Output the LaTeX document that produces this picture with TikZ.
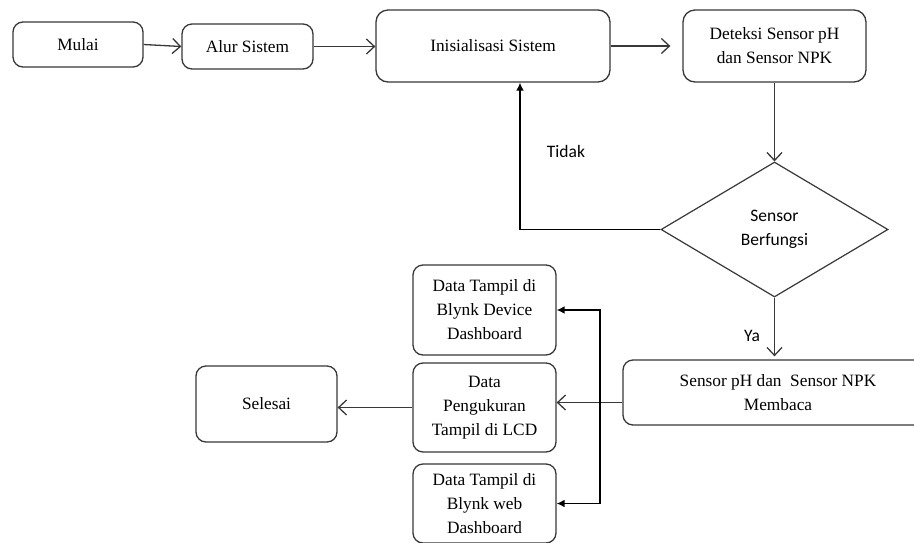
\documentclass[tikz,border=0pt]{standalone}
\usepackage{fontspec}
\setmainfont{Liberation Serif}
\newfontfamily\labelfont{Carlito}
\usetikzlibrary{shapes.geometric,arrows.meta}
\definecolor{edge}{HTML}{383838}
\begin{document}
\begin{tikzpicture}[x=1pt,y=-1pt,
  box/.style={draw=edge,line width=1.3pt,rounded corners=10pt,align=center,inner sep=2pt,
    font=\fontsize{17.3}{24}\selectfont},
  flow/.style={draw=edge,line width=1.3pt,-{Straight Barb[length=8pt,width=15pt,line width=1.3pt]}},
  bus/.style={draw=black,line width=1.8pt,{Latex[length=8pt,width=8pt]}-{Latex[length=8pt,width=8pt]}},
  lbl/.style={font=\labelfont\fontsize{17.5}{24}\selectfont,align=center}]
\useasboundingbox (0,0) rectangle (914,542);
\clip (0,0) rectangle (914,542);
\fill[white] (0,0) rectangle (914,542);
\node[box,minimum width=130pt,minimum height=45pt] (mulai) at (78,44.5) {Mulai};
\node[box,minimum width=131pt,minimum height=45pt] (alur) at (247.5,46.5) {Alur Sistem};
\node[box,minimum width=234pt,minimum height=72pt,rounded corners=12pt] (init) at (493,46) {Inisialisasi Sistem};
\node[box,minimum width=183pt,minimum height=72pt,rounded corners=12pt] (deteksi) at (774.5,46) {Deteksi Sensor pH\\dan Sensor NPK};
\node[draw=edge,line width=1.2pt,diamond,minimum width=227pt,minimum height=135pt,inner sep=0pt,lbl] (dec) at (774.5,229.5) {Sensor\\Berfungsi};
\node[box,minimum width=310pt,minimum height=65pt] (sensor) at (778,392.5) {Sensor pH dan\ \ Sensor NPK\\Membaca};
\node[box,minimum width=143pt,minimum height=90pt] (dev) at (484.5,310) {Data Tampil di\\Blynk Device\\Dashboard};
\node[box,minimum width=143pt,minimum height=89pt] (lcd) at (484.5,407.5) {Data\\Pengukuran\\Tampil di LCD};
\node[box,minimum width=143pt,minimum height=79pt] (web) at (484.5,503.5) {Data Tampil di\\Blynk web\\Dashboard};
\node[box,minimum width=141pt,minimum height=76pt] (selesai) at (266.5,404) {Selesai};
\coordinate (tidakx) at (520,0);
\coordinate (busx) at (600,0);
\draw[flow] (mulai.east) -- (alur.west);
\draw[flow] (alur.east) -- (alur.east -| init.west);
\draw[flow] (init.east) -- ([xshift=-12pt]deteksi.west);
\draw[flow] (deteksi.south) -- (dec.north);
\draw[draw=black,line width=1.6pt,-{Latex[length=8pt,width=8pt]}] (dec.west) -- (dec.west -| tidakx) -- (init.south -| tidakx);
\draw[flow] (dec.south) -- ([yshift=3pt]dec.south |- sensor.north);
\draw[flow] ([yshift=-10pt]sensor.west) -- ([yshift=-10pt]sensor.west -| lcd.east);
\draw[flow] (lcd.west) -- (lcd.west -| selesai.east);
\draw[bus] (web.east) -- (web.east -| busx) -- (dev.east -| busx) -- (dev.east);
\node[lbl] (tidak) at (566,151) {Tidak};
\node[lbl] (ya) at (752,336) {Ya};
\end{tikzpicture}
\end{document}
